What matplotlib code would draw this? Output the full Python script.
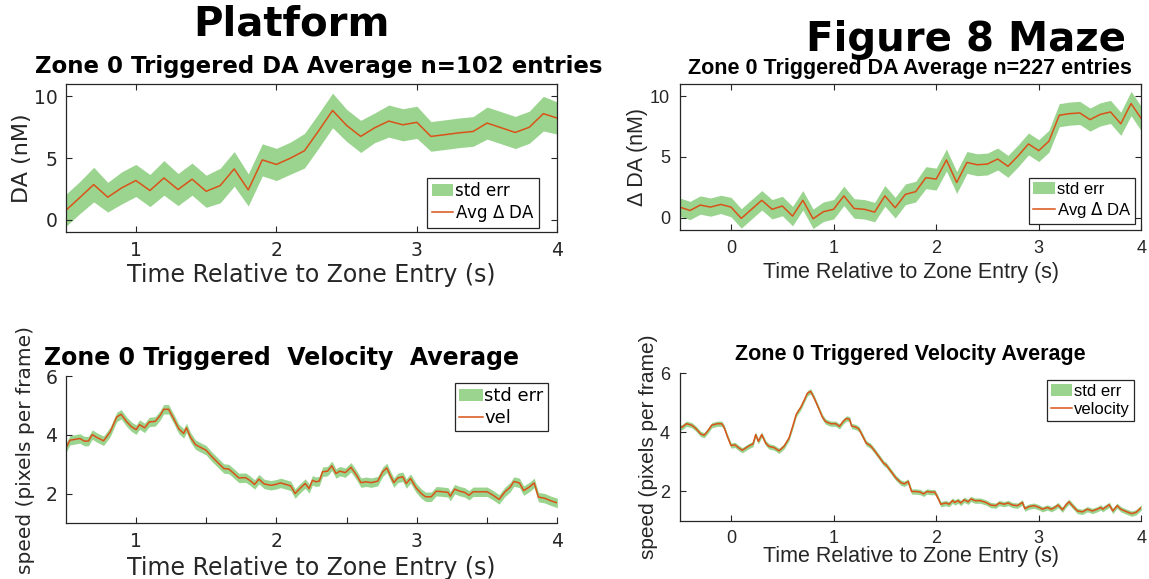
import numpy as np
import matplotlib
matplotlib.use("Agg")
import matplotlib.pyplot as plt

# ---- Platform: DA average (0.1 s bins) ----
plat_da_t = np.round(np.arange(0.5, 4.01, 0.1), 2)
plat_da = [0.76, 1.8, 2.86, 1.84, 2.6, 3.19, 2.38, 3.4, 2.46, 3.3, 2.32, 2.78,
           4.13, 2.43, 4.86, 4.49, 5.0, 5.6, 7.2, 8.86, 7.65, 6.76, 7.46, 8.0,
           7.7, 7.9, 6.76, 6.9, 7.05, 7.16, 7.84, 7.46, 7.08, 7.5, 8.6, 8.24]
plat_da_err = [1.3, 1.3, 1.4, 1.2, 1.3, 1.3, 1.3, 1.4, 1.3, 1.3, 1.3, 1.4,
               1.4, 1.3, 1.3, 1.3, 1.3, 1.4, 1.4, 1.4, 1.3, 1.3, 1.2, 1.3,
               1.3, 1.3, 1.2, 1.2, 1.2, 1.2, 1.3, 1.3, 1.3, 1.3, 1.4, 1.3]

# ---- Figure 8 maze: DA average (0.1 s bins) ----
maze_da_t = np.round(np.arange(-0.5, 4.01, 0.1), 2)
maze_da = [0.88, 0.6, 1.05, 0.88, 1.1, 0.88, -0.05, 0.7, 1.44, 0.7, 0.97, 0.14,
           1.44, -0.08, 0.5, 0.7, 1.8, 0.77, 0.7, 0.47, 1.8, 0.83, 1.93, 2.15,
           3.3, 3.18, 4.75, 2.9, 4.55, 4.36, 4.42, 4.83, 4.23, 5.1, 6.07, 5.52,
           6.3, 8.43, 8.56, 8.62, 8.07, 8.5, 8.7, 7.73, 9.39, 8.15]
maze_da_err = [0.75, 0.75, 0.75, 0.75, 0.75, 0.8, 0.8, 0.8, 0.8, 0.8, 0.8, 0.8,
               0.8, 0.8, 0.8, 0.8, 0.8, 0.8, 0.8, 0.8, 0.85, 0.85, 0.85, 0.85,
               0.9, 0.9, 0.9, 0.9, 0.9, 0.9, 0.9, 0.9, 0.9, 0.9, 0.9, 0.9,
               0.9, 0.95, 0.95, 0.95, 0.95, 0.95, 0.95, 0.95, 1.0, 1.0]

# ---- Platform: velocity ----
plat_vel_t = [0.5, 0.531, 0.567, 0.602, 0.633, 0.662, 0.69, 0.72, 0.77, 0.817,
              0.864, 0.895, 0.936, 0.971, 1.002, 1.026, 1.062, 1.095, 1.138, 1.174,
              1.198, 1.233, 1.269, 1.305, 1.34, 1.36, 1.388, 1.424, 1.467, 1.5,
              1.543, 1.59, 1.626, 1.662, 1.698, 1.733, 1.781, 1.81, 1.845, 1.876,
              1.912, 1.96, 1.995, 2.03, 2.067, 2.102, 2.133, 2.167, 2.205, 2.233,
              2.257, 2.281, 2.305, 2.329, 2.364, 2.395, 2.424, 2.452, 2.49, 2.531,
              2.567, 2.602, 2.638, 2.674, 2.721, 2.757, 2.786, 2.812, 2.836, 2.864,
              2.9, 2.924, 2.955, 2.995, 3.031, 3.062, 3.102, 3.138, 3.186, 3.221,
              3.238, 3.269, 3.305, 3.34, 3.371, 3.4, 3.448, 3.5, 3.543, 3.585,
              3.625, 3.665, 3.69, 3.73, 3.76, 3.8, 3.835, 3.865, 3.91, 3.95, 4.0]
plat_vel = [3.54, 3.82, 3.85, 3.88, 3.79, 3.79, 4.01, 3.92, 3.8, 4.1,
            4.61, 4.7, 4.44, 4.27, 4.18, 4.35, 4.24, 4.44, 4.46, 4.67,
            4.87, 4.87, 4.55, 4.21, 4.05, 4.24, 3.93, 3.67, 3.56, 3.48,
            3.25, 3.03, 2.86, 2.84, 2.69, 2.54, 2.55, 2.46, 2.32, 2.5,
            2.34, 2.29, 2.32, 2.37, 2.32, 2.27, 2.01, 2.18, 2.35, 2.18,
            2.46, 2.41, 2.43, 2.75, 2.77, 2.95, 2.69, 2.77, 2.72, 2.9,
            2.66, 2.38, 2.41, 2.38, 2.43, 2.75, 2.88, 2.61, 2.38, 2.54,
            2.58, 2.35, 2.52, 2.2, 2.01, 1.9, 1.9, 2.09, 2.07, 2.05,
            1.92, 2.16, 2.09, 2.05, 1.95, 2.07, 2.07, 2.07, 1.95, 1.81,
            2.06, 2.23, 2.42, 2.37, 2.11, 2.23, 2.37, 1.89, 1.85, 1.77, 1.69]
plat_vel_err = 0.16

# ---- Figure 8 maze: velocity ----
maze_vel_t = [-0.5, -0.474, -0.435, -0.383, -0.344, -0.295, -0.263, -0.23, -0.188, -0.133,
              -0.091, -0.068, -0.036, 0.0, 0.039, 0.078, 0.11, 0.149, 0.192, 0.214,
              0.24, 0.266, 0.299, 0.338, 0.37, 0.419, 0.468, 0.516, 0.565, 0.597,
              0.636, 0.679, 0.711, 0.744, 0.776, 0.808, 0.851, 0.89, 0.922, 0.971,
              1.019, 1.058, 1.091, 1.127, 1.156, 1.175, 1.214, 1.247, 1.279, 1.318,
              1.36, 1.393, 1.442, 1.49, 1.51, 1.558, 1.607, 1.656, 1.688, 1.727,
              1.76, 1.802, 1.844, 1.877, 1.909, 1.948, 1.987, 2.019, 2.045, 2.094,
              2.127, 2.159, 2.182, 2.214, 2.24, 2.273, 2.312, 2.338, 2.377, 2.429,
              2.484, 2.532, 2.581, 2.614, 2.662, 2.701, 2.744, 2.792, 2.841, 2.864,
              2.906, 2.955, 3.003, 3.036, 3.084, 3.123, 3.156, 3.188, 3.231, 3.263,
              3.295, 3.328, 3.377, 3.425, 3.474, 3.523, 3.571, 3.604, 3.623, 3.687,
              3.722, 3.764, 3.8, 3.852, 3.905, 3.947, 4.0]
maze_vel = [4.15, 4.18, 4.29, 4.24, 4.13, 3.94, 3.9, 4.03, 4.24, 4.29,
            4.29, 4.17, 3.86, 3.55, 3.57, 3.46, 3.39, 3.48, 3.57, 3.6,
            3.92, 3.69, 3.92, 3.63, 3.52, 3.48, 3.37, 3.52, 3.8, 4.15,
            4.61, 4.84, 5.07, 5.32, 5.39, 5.18, 4.84, 4.52, 4.36, 4.29,
            4.29, 4.2, 4.36, 4.47, 4.44, 4.21, 4.18, 4.11, 3.9, 3.63,
            3.54, 3.4, 3.17, 2.94, 2.9, 2.68, 2.45, 2.29, 2.25, 2.33,
            1.99, 1.99, 1.97, 1.91, 1.99, 1.97, 1.97, 1.76, 1.56, 1.6,
            1.56, 1.68, 1.62, 1.68, 1.6, 1.71, 1.64, 1.74, 1.68, 1.68,
            1.62, 1.53, 1.51, 1.6, 1.56, 1.6, 1.53, 1.51, 1.62, 1.41,
            1.48, 1.51, 1.45, 1.39, 1.45, 1.39, 1.45, 1.53, 1.37, 1.53,
            1.64, 1.51, 1.33, 1.3, 1.39, 1.33, 1.39, 1.45, 1.39, 1.54,
            1.33, 1.51, 1.39, 1.31, 1.24, 1.28, 1.45]
maze_vel_err = 0.09

fill_col = "#9bd48f"
line_col = "#d95319"
ink = "#262626"
left_font = "DejaVu Sans"
right_font = "Liberation Sans"

fig = plt.figure(figsize=(11.49, 5.79), dpi=100)

ax_tl = fig.add_axes([0.0571, 0.5988, 0.428, 0.2561])
ax_tr = fig.add_axes([0.5916, 0.6028, 0.4017, 0.2522])
ax_bl = fig.add_axes([0.0571, 0.0962, 0.428, 0.2544])
ax_br = fig.add_axes([0.5916, 0.1007, 0.4017, 0.2546])


def band_plot(ax, t, y, err, line_label):
    t = np.asarray(t, dtype=float)
    y = np.asarray(y, dtype=float)
    err = np.asarray(err, dtype=float)
    ax.fill_between(t, y - err, y + err, color=fill_col, lw=0, label="std err")
    ax.plot(t, y, color=line_col, lw=1.1, label=line_label)


def style_axes(ax, font, tick_size, box, pad):
    for sp in ax.spines.values():
        sp.set_color(ink)
        sp.set_linewidth(0.9)
    if not box:
        ax.spines["top"].set_visible(False)
        ax.spines["right"].set_visible(False)
    ax.tick_params(which="both", direction="in", length=4, width=0.8,
                   colors=ink, labelsize=tick_size, top=box, right=box, pad=pad)
    for lab in ax.get_xticklabels() + ax.get_yticklabels():
        lab.set_fontfamily(font)


# top-left: platform DA
band_plot(ax_tl, plat_da_t, plat_da, plat_da_err, "Avg $\\Delta$ DA")
ax_tl.set_xlim(0.5, 4)
ax_tl.set_ylim(-1, 11)
ax_tl.set_xticks([1, 2, 3, 4])
ax_tl.set_yticks([0, 5, 10])
style_axes(ax_tl, left_font, 13.5, True, 6)
ax_tl.set_xlabel("Time Relative to Zone Entry (s)", fontsize=17,
                 family=left_font, color=ink)
ax_tl.xaxis.set_label_coords(0.5, -0.205)
ax_tl.set_ylabel("DA (nM)", fontsize=16, family=left_font, color=ink)
ax_tl.yaxis.set_label_coords(-0.068, 0.5)

# top-right: maze DA
band_plot(ax_tr, maze_da_t, maze_da, maze_da_err, "Avg $\\Delta$ DA")
ax_tr.set_xlim(-0.5, 4)
ax_tr.set_ylim(-1, 11)
ax_tr.set_xticks([0, 1, 2, 3, 4])
ax_tr.set_yticks([0, 5, 10])
style_axes(ax_tr, right_font, 13, True, 7)
ax_tr.set_xlabel("Time Relative to Zone Entry (s)", fontsize=15.5,
                 family=right_font, color=ink)
ax_tr.xaxis.set_label_coords(0.5, -0.22)
ax_tr.set_ylabel("\u0394 DA (nM)", fontsize=15.5, family=right_font, color=ink)
ax_tr.yaxis.set_label_coords(-0.068, 0.5)

# bottom-left: platform velocity
band_plot(ax_bl, plat_vel_t, plat_vel, plat_vel_err, "vel")
ax_bl.set_xlim(0.5, 4)
ax_bl.set_ylim(1, 6)
ax_bl.set_xticks([1, 2, 3, 4])
ax_bl.set_xticks([1.5, 2.5, 3.5], minor=True)
ax_bl.set_yticks([2, 4, 6])
style_axes(ax_bl, left_font, 13.5, False, 6)
ax_bl.set_xlabel("Time Relative to Zone Entry (s)", fontsize=17,
                 family=left_font, color=ink)
ax_bl.xaxis.set_label_coords(0.5, -0.225)
ax_bl.set_ylabel("speed (pixels per frame)", fontsize=14.5, family=left_font,
                 color=ink)
ax_bl.yaxis.set_label_coords(-0.062, 0.5)

# bottom-right: maze velocity
band_plot(ax_br, maze_vel_t, maze_vel, maze_vel_err, "velocity")
ax_br.set_xlim(-0.5, 4)
ax_br.set_ylim(1, 6)
ax_br.set_xticks([0, 1, 2, 3, 4])
ax_br.set_yticks([2, 4, 6])
style_axes(ax_br, right_font, 13, False, 7)
ax_br.set_xlabel("Time Relative to Zone Entry (s)", fontsize=15.5,
                 family=right_font, color=ink)
ax_br.xaxis.set_label_coords(0.5, -0.17)
ax_br.set_ylabel("speed (pixels per frame)", fontsize=15, family=right_font,
                 color=ink)
ax_br.yaxis.set_label_coords(-0.047, 0.5)

# legends
leg_specs = [(ax_tl, (0.469, 0.693), left_font, 12),
             (ax_tr, (0.988, 0.693), right_font, 12),
             (ax_bl, (0.477, 0.339), left_font, 13),
             (ax_br, (0.987, 0.344), right_font, 12)]
for ax, anchor, font, size in leg_specs:
    leg = ax.legend(loc="upper right", bbox_to_anchor=anchor,
                    bbox_transform=fig.transFigure, borderaxespad=0,
                    fancybox=False, framealpha=1, handlelength=1.3,
                    handletextpad=0.1, borderpad=0.25, labelspacing=0.2,
                    prop={"family": font, "size": size})
    leg.get_frame().set_edgecolor(ink)
    leg.get_frame().set_linewidth(0.9)

# titles
fig.text(0.254, 0.957, "Platform", fontsize=29, weight="bold",
         family=left_font, ha="center", va="center")
fig.text(0.841, 0.912, "Figure 8 Maze", fontsize=29, weight="bold",
         family=left_font, ha="center", va="baseline")
fig.text(0.277, 0.886, "Zone 0 Triggered DA Average n=102 entries",
         fontsize=16.5, weight="bold", family=left_font, ha="center", va="center")
fig.text(0.792, 0.882, "Zone 0 Triggered DA Average n=227 entries",
         fontsize=15.5, weight="bold", family=right_font, ha="center", va="center")
fig.text(0.245, 0.382, "Zone 0 Triggered  Velocity  Average",
         fontsize=17, weight="bold", family=left_font, ha="center", va="center")
fig.text(0.792, 0.387, "Zone 0 Triggered Velocity Average",
         fontsize=15.5, weight="bold", family=right_font, ha="center", va="center")

fig.savefig("out.png", dpi=100)
